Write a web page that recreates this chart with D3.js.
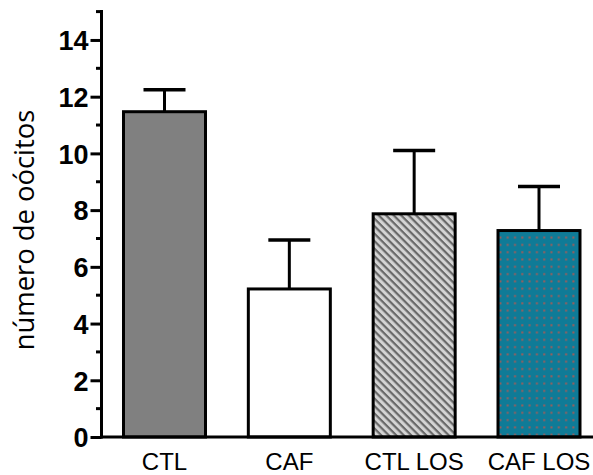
<!DOCTYPE html>
<html>
<head>
<meta charset="utf-8">
<script src="https://cdn.jsdelivr.net/npm/d3@7"></script>
<style>
  body { margin: 0; background: #fff; }
</style>
</head>
<body>
<div id="chart"></div>
<script>
// datos
var groups = ["CTL", "CAF", "CTL LOS", "CAF LOS"];
var means = [11.47, 5.22, 7.87, 7.28];
var sems = [0.77, 1.73, 2.23, 1.55];
var yTicks = [0, 2, 4, 6, 8, 10, 12, 14];
var yMinor = [1, 3, 5, 7, 9, 11, 13, 15];

var width = 593, height = 475;

var svg = d3.select("#chart")
  .append("svg")
  .attr("width", width)
  .attr("height", height);

// patterns
var defs = svg.append("defs");
var hatch = defs.append("pattern")
  .attr("id", "hatch")
  .attr("patternUnits", "userSpaceOnUse")
  .attr("width", 5.3)
  .attr("height", 5.3)
  .attr("patternTransform", "rotate(45)");
hatch.append("rect").attr("width", 5.3).attr("height", 5.3).attr("fill", "#d4d4d4");
hatch.append("rect").attr("width", 5.3).attr("height", 2.2).attr("fill", "#686868");

var dots = defs.append("pattern")
  .attr("id", "dots")
  .attr("patternUnits", "userSpaceOnUse")
  .attr("width", 7.3)
  .attr("height", 7.3);
dots.append("rect").attr("width", 7.3).attr("height", 7.3).attr("fill", "#0f7b97");
dots.append("rect").attr("x", 3).attr("y", 3).attr("width", 2).attr("height", 2).attr("fill", "#9a5e5c");

var fills = ["#808080", "#ffffff", "url(#hatch)", "url(#dots)"];

// scales
var x = d3.scalePoint().domain(groups).range([164.5, 539]);
var y = d3.scaleLinear().domain([0, 15]).range([437, 11.6]);
var barW = 82;

var g = svg.append("g");

// error bars
g.selectAll(".err")
  .data(groups)
  .join("line")
  .attr("x1", d => x(d))
  .attr("x2", d => x(d))
  .attr("y1", (d, i) => y(means[i]))
  .attr("y2", (d, i) => y(means[i] + sems[i]))
  .attr("stroke", "#000")
  .attr("stroke-width", 3);
g.selectAll(".cap")
  .data(groups)
  .join("line")
  .attr("x1", d => x(d) - 21)
  .attr("x2", d => x(d) + 21)
  .attr("y1", (d, i) => y(means[i] + sems[i]))
  .attr("y2", (d, i) => y(means[i] + sems[i]))
  .attr("stroke", "#000")
  .attr("stroke-width", 3.5);

// bars
g.selectAll(".bar")
  .data(groups)
  .join("rect")
  .attr("x", d => x(d) - barW / 2)
  .attr("width", barW)
  .attr("y", (d, i) => y(means[i]))
  .attr("height", (d, i) => y(0) - y(means[i]))
  .attr("fill", (d, i) => fills[i])
  .attr("stroke", "#000")
  .attr("stroke-width", 3);

// y axis
var yAxis = svg.append("g")
  .attr("transform", "translate(101.5,0)")
  .call(d3.axisLeft(y).tickValues(yTicks).tickSize(11).tickPadding(2).tickFormat(d3.format("d")));
yAxis.select(".domain").remove();
yAxis.selectAll(".tick line").attr("stroke-width", 3);
yAxis.selectAll(".tick text")
  .attr("font-family", "Liberation Sans, Arial, sans-serif")
  .attr("font-weight", "bold")
  .attr("font-size", 27)
  .attr("dy", "0.36em")
  .attr("fill", "#000");

svg.append("g")
  .selectAll("line")
  .data(yMinor)
  .join("line")
  .attr("x1", 96)
  .attr("x2", 101.5)
  .attr("y1", d => y(d))
  .attr("y2", d => y(d))
  .attr("stroke", "#000")
  .attr("stroke-width", 3);

svg.append("line")
  .attr("x1", 101.5).attr("x2", 101.5)
  .attr("y1", y(15) - 1.5).attr("y2", y(0) + 1.5)
  .attr("stroke", "#000").attr("stroke-width", 3);

// x axis
svg.append("line")
  .attr("x1", 100).attr("x2", width)
  .attr("y1", y(0)).attr("y2", y(0))
  .attr("stroke", "#000").attr("stroke-width", 3);

svg.append("g")
  .selectAll("text")
  .data(groups)
  .join("text")
  .attr("x", d => x(d))
  .attr("y", 470)
  .attr("text-anchor", "middle")
  .attr("font-family", "Liberation Sans, Arial, sans-serif")
  .attr("font-size", 24)
  .text(d => d);

// y label
svg.append("text")
  .attr("transform", "translate(34,230) rotate(-90)")
  .attr("text-anchor", "middle")
  .attr("font-family", "Open Sans, sans-serif")
  .attr("font-size", 27.4)
  .text("número de oócitos");
</script>
</body>
</html>
